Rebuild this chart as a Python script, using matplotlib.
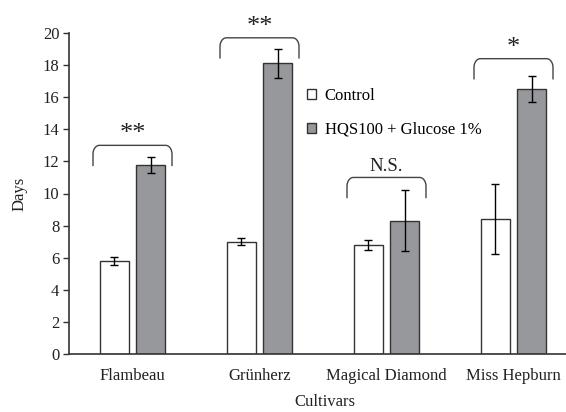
import numpy as np
import matplotlib
matplotlib.use("Agg")
import matplotlib.pyplot as plt
from matplotlib.patches import Patch

plt.rcParams['font.family'] = ['Liberation Serif', 'DejaVu Serif']

cultivars = ["Flambeau", "Grünherz", "Magical Diamond", "Miss Hepburn"]
control = [5.8, 7.0, 6.8, 8.4]
control_err = [0.25, 0.2, 0.3, 2.2]
hqs = [11.8, 18.1, 8.3, 16.5]
hqs_err = [0.5, 0.9, 1.9, 0.8]
significance = ["**", "**", "N.S.", "*"]
bracket_tops = [13.0, 19.7, 11.0, 18.4]
yticks = [0, 2, 4, 6, 8, 10, 12, 14, 16, 18, 20]

W, H = 566, 412
fig = plt.figure(figsize=(W / 100, H / 100), dpi=100)
ax = fig.add_axes([69 / W, 1 - 354 / H, 508 / W, (354 - 33) / H])

x = np.arange(len(cultivars))
bw = 0.224
off = 0.142
edge = "#333333"
ekw = dict(ecolor="black", elinewidth=1.0, capsize=3, capthick=1.0)
ax.bar(x - off, control, bw, color="white", edgecolor=edge, linewidth=1.0,
       yerr=control_err, error_kw=ekw, label="Control", zorder=2)
ax.bar(x + off, hqs, bw, color="#97989c", edgecolor=edge, linewidth=1.0,
       yerr=hqs_err, error_kw=ekw, label="HQS100 + Glucose 1%", zorder=2)

# significance brackets with rounded corners
half = 0.311
drop = 1.25
for xi, top, lab in zip(x, bracket_tops, significance):
    t = np.linspace(0, np.pi / 2, 16)
    rx, ry = 0.05, 0.55
    left_arc_x = xi - half + rx * (1 - np.cos(t))
    left_arc_y = top - ry + ry * np.sin(t)
    right_arc_x = xi + half - rx * (1 - np.cos(t[::-1]))
    right_arc_y = top - ry + ry * np.sin(t[::-1])
    bx = np.concatenate([[xi - half], left_arc_x, right_arc_x, [xi + half]])
    by = np.concatenate([[top - drop], left_arc_y, right_arc_y, [top - drop]])
    ax.plot(bx, by, color="#444444", lw=1.0, clip_on=False)
    if lab == "N.S.":
        ax.text(xi, top + 0.18, lab, ha="center", va="bottom", fontsize=13.5, color="#222222")
    else:
        ax.text(xi, top + 0.0, lab, ha="center", va="bottom", fontsize=19, color="#222222")

ax.set_xlim(-0.5, 3.5)
ax.set_ylim(0, 20)
ax.set_yticks(yticks)
ax.set_yticklabels([str(v) for v in yticks], fontsize=12, color="#222222")
ax.set_xticks(x)
ax.set_xticklabels(cultivars, fontsize=12, color="#222222")
ax.tick_params(axis="x", length=0, pad=10)
ax.tick_params(axis="y", length=4, width=1.0, color="#333333", direction="out", pad=3)
for s in ["top", "right"]:
    ax.spines[s].set_visible(False)
for s in ["left", "bottom"]:
    ax.spines[s].set_color("#333333")
    ax.spines[s].set_linewidth(1.2)

ax.set_ylabel("Days", fontsize=12, color="#222222", labelpad=11)
ax.set_xlabel("Cultivars", fontsize=12, color="#222222")
ax.xaxis.set_label_coords((325 - 69) / 508, -0.125)

handles = [Patch(facecolor="white", edgecolor=edge, linewidth=1.0),
           Patch(facecolor="#97989c", edgecolor=edge, linewidth=1.0)]
ax.legend(handles, ["Control", "HQS100 + Glucose 1%"], loc="upper left",
          bbox_to_anchor=((307 - 69) / 508, (354 - 88) / 321), frameon=False,
          fontsize=12, handlelength=0.55, handleheight=0.55, handletextpad=0.5,
          labelspacing=1.05, borderaxespad=0, borderpad=0)

fig.savefig("out.png", dpi=100)
